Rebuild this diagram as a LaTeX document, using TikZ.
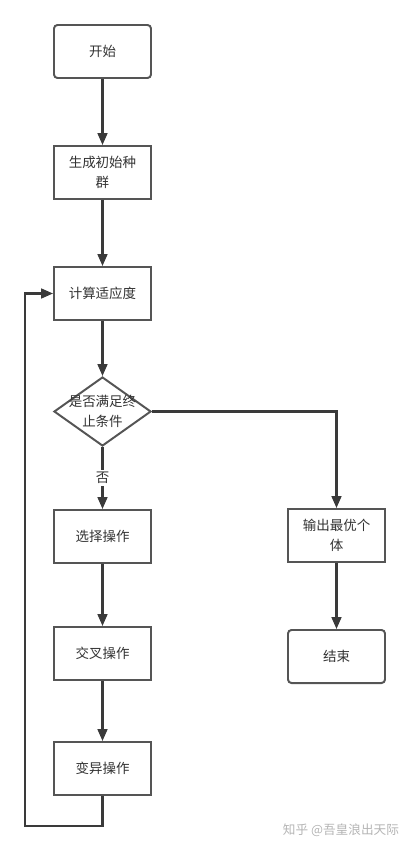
\documentclass[tikz,border=0pt]{standalone}
\usepackage{fontspec}
\setmainfont{Noto Sans CJK SC}
\usetikzlibrary{arrows.meta,shapes.geometric,positioning}

\definecolor{linegray}{HTML}{3A3A3A}
\definecolor{boxgray}{HTML}{555555}
\definecolor{textgray}{HTML}{333333}
\definecolor{markgray}{HTML}{B4B4B4}

\begin{document}
\begin{tikzpicture}
	[
	 %Styles
	 x=0.025cm, y=-0.025cm,
	 font=\fontsize{9.6}{14}\selectfont,
	 step_box/.style={rectangle,draw=boxgray,line width=1.4pt,fill=white,text=textgray,
	   minimum width=2.425cm,minimum height=1.325cm,align=center,inner sep=1pt},
	 term_box/.style={step_box,rounded corners=2.5pt},
	 decision/.style={diamond,draw=boxgray,line width=1.4pt,fill=white,
	   minimum width=2.425cm,minimum height=1.725cm,inner sep=0pt,aspect=1.4},
	 flow/.style={draw=linegray,line width=1.5pt,-{Triangle[length=8.5pt,width=7pt]}},
	 edge_label/.style={fill=white,text=textgray,inner sep=1.5pt},
	 mark_text/.style={text=markgray,font=\fontsize{9}{10}\selectfont}
	]

	\useasboundingbox (0,0) rectangle (409,851);

	%Node placement
	\node (start) [term_box] at (102.5,51.5) {开始};
	\node (init) [step_box] at (102.5,172.5) {生成初始种\\群};
	\node (fit) [step_box] at (102.5,293.5) {计算适应度};
	\node (cond) [decision,label={[text=textgray,align=center]center:是否满足终\\止条件}] at (102.5,411.5) {};
	\node (sel) [step_box] at (102.5,536.5) {选择操作};
	\node (cross) [step_box] at (102.5,653.5) {交叉操作};
	\node (mut) [step_box] at (102.5,768.5) {变异操作};
	\node (best) [step_box] at (336.5,535.5) {输出最优个\\体};
	\node (finish) [term_box] at (336.5,656.5) {结束};
	\coordinate (loop_corner) at (25,826);

	%Edges
	\path
	    (start) edge [flow] (init)
	    (init) edge [flow] (fit)
	    (fit) edge [flow] (cond)
	    (cond) edge [flow] node [edge_label] {否} (sel)
	    (sel) edge [flow] (cross)
	    (cross) edge [flow] (mut)
	    (best) edge [flow] (finish);
	\draw [flow] (cond.east) -| (best.north);
	\draw [flow] (mut.south) |- (loop_corner) |- (fit.west);

	%Watermark
	\node (mark) [mark_text] at (341,830) {知乎 @吾皇浪出天际};
\end{tikzpicture}
\end{document}
